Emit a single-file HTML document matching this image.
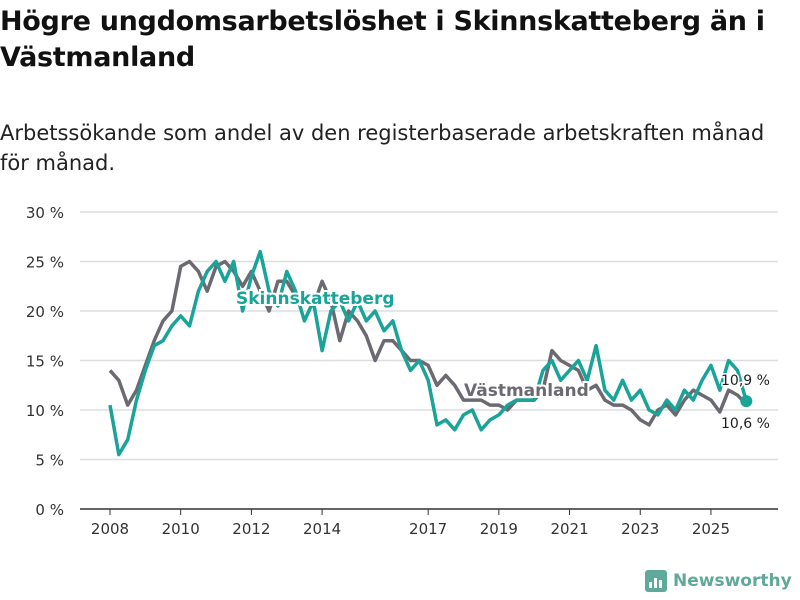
<!DOCTYPE html>
<html><head><meta charset="utf-8"><style>
body{margin:0;width:800px;height:600px;background:#fff;font-family:"DejaVu Sans","Liberation Sans",sans-serif;overflow:hidden;position:relative}
h1{position:absolute;left:0;top:4px;margin:0;font-size:27px;line-height:36px;font-weight:bold;color:#111;width:800px;letter-spacing:-0.3px}
p{position:absolute;left:0;top:118px;margin:0;font-size:21px;line-height:30px;color:#222;width:785px}
svg{position:absolute;left:0;top:0;font-family:"DejaVu Sans","Liberation Sans",sans-serif}
</style></head><body>
<h1>Högre ungdomsarbetslöshet i Skinnskatteberg än i Västmanland</h1>
<p>Arbetssökande som andel av den registerbaserade arbetskraften månad för månad.</p>
<svg id="c" width="800" height="600"></svg>
<script>
const yTicks=[0,5,10,15,20,25,30];
const xTicks=[2008,2010,2012,2014,2017,2019,2021,2023,2025];
const vastmanland=[14,13,10.5,12,14.5,17,19,20,24.5,25,24,22,24.5,25,24,22.5,24,22,20,23,23,21.5,21,20.5,23,21,17,20,19,17.5,15,17,17,16,15,15,14.5,12.5,13.5,12.5,11,11,11,10.5,10.5,10,11,11,11,12,16,15,14.5,14,12,12.5,11,10.5,10.5,10,9,8.5,10,10.5,9.5,11,12,11.5,11,9.8,12,11.5,10.6];
const skinnskatteberg=[10.5,5.5,7,11,14,16.5,17,18.5,19.5,18.5,22,24,25,23,25,20,23.5,26,22,20.5,24,22,19,21,16,20,21,19,21,19,20,18,19,16,14,15,13,8.5,9,8,9.5,10,8,9,9.5,10.5,11,11,11,14,15,13,14,15,13,16.5,12,11,13,11,12,10,9.5,11,10,12,11,13,14.5,12,15,14,10.9];
const startYear=2008;
const svg=document.getElementById('c');const NS='http://www.w3.org/2000/svg';
const X=t=>110+(t-2008)*35.35;const Y=v=>509-v*9.9;
function el(tag,a,txt){const e=document.createElementNS(NS,tag);for(const k in a)e.setAttribute(k,a[k]);if(txt!==undefined)e.textContent=txt;svg.appendChild(e);return e;}
yTicks.forEach(v=>{
 const g=el('line',{x1:80,x2:778,y1:Y(v),y2:Y(v),stroke:v===0?'#333':'#ddd','stroke-width':1.5});
 
 
 const t=el('text',{x:64,y:Y(v)+6,'text-anchor':'end','font-size':15,fill:'#333'},v+' %');
 
 
});
xTicks.forEach(yr=>{
 const l=el('line',{x1:X(yr),x2:X(yr),y1:509,y2:515,stroke:'#333','stroke-width':1});
 
 
 const t=el('text',{x:X(yr),y:534,'text-anchor':'middle','font-size':15,fill:'#333'},yr);
 
 
});
function line(arr,color,name){
 const d=arr.map((v,i)=>(i?'L':'M')+X(startYear+i/4).toFixed(1)+','+Y(v).toFixed(1)).join('');
 const p=el('path',{d:d,fill:'none',stroke:color,'stroke-width':3.5,'stroke-linejoin':'round'});
 
 
}
line(vastmanland,'#6b6a70','vastmanland-line');
line(skinnskatteberg,'#1aa399','skinnskatteberg-line');
const n=skinnskatteberg.length-1;
const dot=el('circle',{cx:X(startYear+n/4),cy:Y(skinnskatteberg[n]),r:6,fill:'#1aa399'});


function lbl(x,y,txt,col,name,size,bold){
 const t=el('text',{x:x,y:y,'font-size':size,'font-weight':bold?'bold':'normal',fill:col,stroke:'#fff','stroke-width':bold?4:3,'paint-order':'stroke'},txt);
 
 
}
lbl(236,304,'Skinnskatteberg','#1aa399','skinnskatteberg-label',17,true);
lbl(464,396,'Västmanland','#6b6a70','vastmanland-label',17,true);
lbl(721,385,'10,9 %','#222','skinnskatteberg-end-value',14,false);
lbl(721,428,'10,6 %','#222','vastmanland-end-value',14,false);
</script>
<div style="position:absolute;left:645px;top:570px;display:flex;align-items:center;gap:6px">
<div style="width:22px;height:22px;background:#5fa99a;border-radius:3px;position:relative">
<div style="position:absolute;left:4px;bottom:4px;width:3px;height:6px;background:#fff"></div>
<div style="position:absolute;left:9px;bottom:4px;width:3px;height:10px;background:#fff"></div>
<div style="position:absolute;left:14px;bottom:4px;width:3px;height:8px;background:#fff"></div></div>
<span style="font-size:17px;font-weight:bold;color:#5fa99a">Newsworthy</span></div>
</body></html>
